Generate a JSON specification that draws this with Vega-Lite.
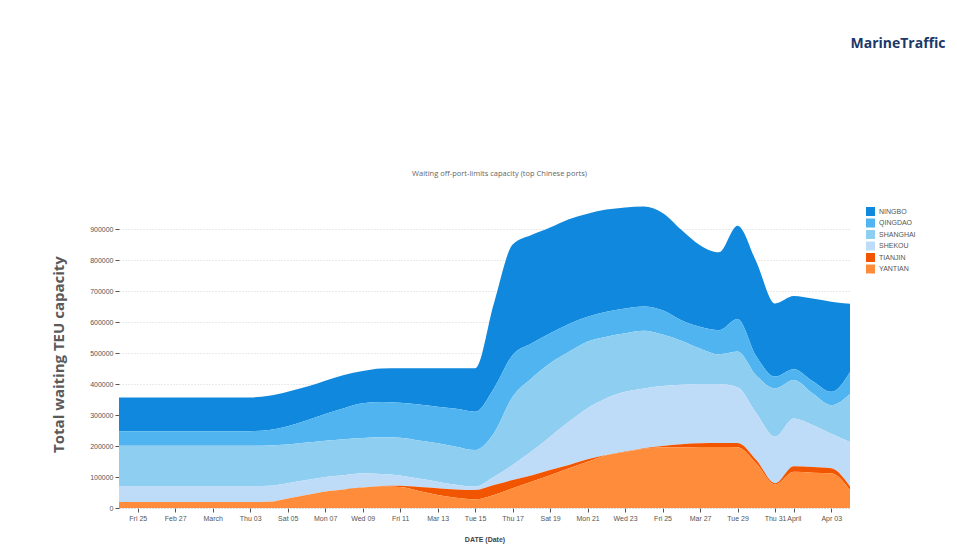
{
  "$schema": "https://vega.github.io/schema/vega-lite/v6.json",
  "width": 731,
  "height": 308,
  "autosize": {"type": "none"},
  "padding": {"left": 119, "top": 200, "right": 107, "bottom": 38},
  "background": "white",
  "config": {"view": {"stroke": null}},
  "title": {
    "text": "Waiting off-port-limits capacity (top Chinese ports)",
    "anchor": "middle",
    "frame": "group",
    "offset": 4,
    "dx": 15,
    "dy": 145,
    "font": "Open Sans",
    "fontSize": 7.5,
    "fontWeight": "normal",
    "color": "#666666"
  },
  "data": {
    "values": [
      {"date": "2022-02-24T00:00:00", "NINGBO": 109000, "QINGDAO": 47000, "SHANGHAI": 130000, "SHEKOU": 52000, "TIANJIN": 0, "YANTIAN": 19000},
      {"date": "2022-02-25T00:00:00", "NINGBO": 109000, "QINGDAO": 47000, "SHANGHAI": 130000, "SHEKOU": 52000, "TIANJIN": 0, "YANTIAN": 19000},
      {"date": "2022-02-26T00:00:00", "NINGBO": 109000, "QINGDAO": 47000, "SHANGHAI": 130000, "SHEKOU": 52000, "TIANJIN": 0, "YANTIAN": 19000},
      {"date": "2022-02-27T00:00:00", "NINGBO": 109000, "QINGDAO": 47000, "SHANGHAI": 130000, "SHEKOU": 52000, "TIANJIN": 0, "YANTIAN": 19000},
      {"date": "2022-02-28T00:00:00", "NINGBO": 109000, "QINGDAO": 47000, "SHANGHAI": 130000, "SHEKOU": 52000, "TIANJIN": 0, "YANTIAN": 19000},
      {"date": "2022-03-01T00:00:00", "NINGBO": 109000, "QINGDAO": 47000, "SHANGHAI": 130000, "SHEKOU": 52000, "TIANJIN": 0, "YANTIAN": 19000},
      {"date": "2022-03-02T00:00:00", "NINGBO": 109000, "QINGDAO": 47000, "SHANGHAI": 130000, "SHEKOU": 52000, "TIANJIN": 0, "YANTIAN": 19000},
      {"date": "2022-03-03T00:00:00", "NINGBO": 109000, "QINGDAO": 47000, "SHANGHAI": 130000, "SHEKOU": 52000, "TIANJIN": 0, "YANTIAN": 19000},
      {"date": "2022-03-04T00:00:00", "NINGBO": 110000, "QINGDAO": 50000, "SHANGHAI": 130000, "SHEKOU": 52000, "TIANJIN": 0, "YANTIAN": 20000},
      {"date": "2022-03-05T00:00:00", "NINGBO": 111000, "QINGDAO": 59000, "SHANGHAI": 125000, "SHEKOU": 49000, "TIANJIN": 0, "YANTIAN": 31000},
      {"date": "2022-03-06T00:00:00", "NINGBO": 109000, "QINGDAO": 71000, "SHANGHAI": 121000, "SHEKOU": 48000, "TIANJIN": 0, "YANTIAN": 42000},
      {"date": "2022-03-07T00:00:00", "NINGBO": 108000, "QINGDAO": 86000, "SHANGHAI": 117000, "SHEKOU": 47000, "TIANJIN": 0, "YANTIAN": 53000},
      {"date": "2022-03-08T00:00:00", "NINGBO": 107000, "QINGDAO": 100000, "SHANGHAI": 116000, "SHEKOU": 46000, "TIANJIN": 0, "YANTIAN": 60000},
      {"date": "2022-03-09T00:00:00", "NINGBO": 104000, "QINGDAO": 112000, "SHANGHAI": 114000, "SHEKOU": 46000, "TIANJIN": 0, "YANTIAN": 66000},
      {"date": "2022-03-10T00:00:00", "NINGBO": 108000, "QINGDAO": 114000, "SHANGHAI": 118000, "SHEKOU": 39000, "TIANJIN": 2000, "YANTIAN": 69000},
      {"date": "2022-03-11T00:00:00", "NINGBO": 111000, "QINGDAO": 113000, "SHANGHAI": 122000, "SHEKOU": 33000, "TIANJIN": 4000, "YANTIAN": 68000},
      {"date": "2022-03-12T00:00:00", "NINGBO": 117000, "QINGDAO": 116000, "SHANGHAI": 123000, "SHEKOU": 27000, "TIANJIN": 13000, "YANTIAN": 55000},
      {"date": "2022-03-13T00:00:00", "NINGBO": 124000, "QINGDAO": 118000, "SHANGHAI": 124000, "SHEKOU": 21000, "TIANJIN": 22000, "YANTIAN": 42000},
      {"date": "2022-03-14T00:00:00", "NINGBO": 131000, "QINGDAO": 122000, "SHANGHAI": 123000, "SHEKOU": 15000, "TIANJIN": 27000, "YANTIAN": 33000},
      {"date": "2022-03-15T00:00:00", "NINGBO": 140000, "QINGDAO": 124000, "SHANGHAI": 118000, "SHEKOU": 11000, "TIANJIN": 30000, "YANTIAN": 28000},
      {"date": "2022-03-16T00:00:00", "NINGBO": 274000, "QINGDAO": 145000, "SHANGHAI": 140000, "SHEKOU": 27000, "TIANJIN": 32000, "YANTIAN": 42000},
      {"date": "2022-03-17T00:00:00", "NINGBO": 356000, "QINGDAO": 135000, "SHANGHAI": 220000, "SHEKOU": 49000, "TIANJIN": 26000, "YANTIAN": 64000},
      {"date": "2022-03-18T00:00:00", "NINGBO": 350000, "QINGDAO": 113000, "SHANGHAI": 236000, "SHEKOU": 77000, "TIANJIN": 20000, "YANTIAN": 85000},
      {"date": "2022-03-19T00:00:00", "NINGBO": 341000, "QINGDAO": 97000, "SHANGHAI": 237000, "SHEKOU": 107000, "TIANJIN": 17000, "YANTIAN": 106000},
      {"date": "2022-03-20T00:00:00", "NINGBO": 338000, "QINGDAO": 90000, "SHANGHAI": 226000, "SHEKOU": 139000, "TIANJIN": 11000, "YANTIAN": 128000},
      {"date": "2022-03-21T00:00:00", "NINGBO": 333000, "QINGDAO": 80000, "SHANGHAI": 215000, "SHEKOU": 165000, "TIANJIN": 8000, "YANTIAN": 149000},
      {"date": "2022-03-22T00:00:00", "NINGBO": 330000, "QINGDAO": 80000, "SHANGHAI": 199000, "SHEKOU": 183000, "TIANJIN": 1000, "YANTIAN": 170000},
      {"date": "2022-03-23T00:00:00", "NINGBO": 326000, "QINGDAO": 80000, "SHANGHAI": 189000, "SHEKOU": 193000, "TIANJIN": 1000, "YANTIAN": 181000},
      {"date": "2022-03-24T00:00:00", "NINGBO": 323000, "QINGDAO": 78000, "SHANGHAI": 186000, "SHEKOU": 193000, "TIANJIN": 2000, "YANTIAN": 191000},
      {"date": "2022-03-25T00:00:00", "NINGBO": 314000, "QINGDAO": 78000, "SHANGHAI": 166000, "SHEKOU": 194000, "TIANJIN": 4000, "YANTIAN": 196000},
      {"date": "2022-03-26T00:00:00", "NINGBO": 292000, "QINGDAO": 66000, "SHANGHAI": 142000, "SHEKOU": 192000, "TIANJIN": 10000, "YANTIAN": 196000},
      {"date": "2022-03-27T00:00:00", "NINGBO": 263000, "QINGDAO": 70000, "SHANGHAI": 115000, "SHEKOU": 191000, "TIANJIN": 12000, "YANTIAN": 197000},
      {"date": "2022-03-28T00:00:00", "NINGBO": 251000, "QINGDAO": 78000, "SHANGHAI": 96000, "SHEKOU": 190000, "TIANJIN": 13000, "YANTIAN": 197000},
      {"date": "2022-03-29T00:00:00", "NINGBO": 301000, "QINGDAO": 105000, "SHANGHAI": 115000, "SHEKOU": 180000, "TIANJIN": 14000, "YANTIAN": 196000},
      {"date": "2022-03-30T00:00:00", "NINGBO": 305000, "QINGDAO": 62000, "SHANGHAI": 122000, "SHEKOU": 151000, "TIANJIN": 11000, "YANTIAN": 144000},
      {"date": "2022-03-31T00:00:00", "NINGBO": 236000, "QINGDAO": 38000, "SHANGHAI": 156000, "SHEKOU": 150000, "TIANJIN": 4000, "YANTIAN": 76000},
      {"date": "2022-04-01T00:00:00", "NINGBO": 236000, "QINGDAO": 35000, "SHANGHAI": 124000, "SHEKOU": 154000, "TIANJIN": 18000, "YANTIAN": 117000},
      {"date": "2022-04-02T00:00:00", "NINGBO": 266000, "QINGDAO": 40000, "SHANGHAI": 102000, "SHEKOU": 136000, "TIANJIN": 18000, "YANTIAN": 114000},
      {"date": "2022-04-03T00:00:00", "NINGBO": 291000, "QINGDAO": 43000, "SHANGHAI": 92000, "SHEKOU": 112000, "TIANJIN": 16000, "YANTIAN": 112000},
      {"date": "2022-04-04T00:00:00", "NINGBO": 220000, "QINGDAO": 70000, "SHANGHAI": 156000, "SHEKOU": 144000, "TIANJIN": 11000, "YANTIAN": 58000}
    ]
  },
  "transform": [
    {"fold": ["NINGBO", "QINGDAO", "SHANGHAI", "SHEKOU", "TIANJIN", "YANTIAN"], "as": ["port", "teu"]}
  ],
  "layer": [
    {
      "mark": {"type": "area", "interpolate": "monotone", "opacity": 1},
      "encoding": {
        "x": {
          "field": "date",
          "type": "temporal",
          "scale": {"nice": false},
          "axis": {
            "tickCount": {"interval": "day", "step": 2},
            "labelOverlap": false,
            "labelFlush": false,
            "labelFont": "Liberation Sans",
            "labelFontSize": 7,
            "labelColor": "#555555",
            "labelPadding": 2,
            "tickSize": 4,
            "tickColor": "#555555",
            "domainColor": "#cccccc",
            "domainDash": [1, 2],
            "grid": false,
            "title": "DATE (Date)",
            "titleFont": "Liberation Sans",
            "titleFontSize": 7,
            "titleFontWeight": "bold",
            "titleColor": "#444444",
            "titlePadding": 14
          }
        },
        "y": {
          "field": "teu",
          "type": "quantitative",
          "stack": "zero",
          "scale": {"domain": [0, 994000], "nice": false},
          "axis": {
            "values": [0, 100000, 200000, 300000, 400000, 500000, 600000, 700000, 800000, 900000],
            "format": "d",
            "labelFont": "Liberation Sans",
            "labelFontSize": 7,
            "labelColor": "#555555",
            "labelPadding": 2,
            "tickSize": 4,
            "tickColor": "#555555",
            "domain": false,
            "grid": true,
            "gridColor": "#d4d4d4",
            "gridDash": [1, 2],
            "title": "Total waiting TEU capacity",
            "titleFont": "Open Sans",
            "titleFontSize": 15,
            "titleFontWeight": "bold",
            "titleColor": "#5a5a5a",
            "titlePadding": 23
          }
        },
        "color": {
          "field": "port",
          "type": "nominal",
          "scale": {
            "domain": ["NINGBO", "QINGDAO", "SHANGHAI", "SHEKOU", "TIANJIN", "YANTIAN"],
            "range": ["#1088dd", "#50b4f0", "#8ecef0", "#bedcf8", "#f25500", "#ff8c3a"]
          },
          "legend": {
            "title": null,
            "orient": "none",
            "legendX": 747,
            "legendY": 7,
            "symbolType": "square",
            "symbolSize": 81,
            "symbolStrokeWidth": 0,
            "symbolOpacity": 1,
            "labelFont": "Liberation Sans",
            "labelFontSize": 7,
            "labelColor": "#555555",
            "rowPadding": 2.5
          }
        },
        "order": {"field": "port", "sort": "descending"}
      }
    },
    {
      "mark": {"type": "rule", "opacity": 0},
      "encoding": {
        "x": {
          "field": "date",
          "type": "temporal",
          "axis": {
            "orient": "top",
            "labels": false,
            "ticks": false,
            "domain": false,
            "grid": false,
            "title": "MarineTraffic",
            "titleFont": "Open Sans",
            "titleFontSize": 14,
            "titleFontWeight": "bold",
            "titleColor": "#1c3768",
            "titleAlign": "right",
            "titleBaseline": "middle",
            "titleX": 826,
            "titleY": -157
          }
        }
      }
    }
  ],
  "resolve": {"axis": {"x": "independent"}}
}
